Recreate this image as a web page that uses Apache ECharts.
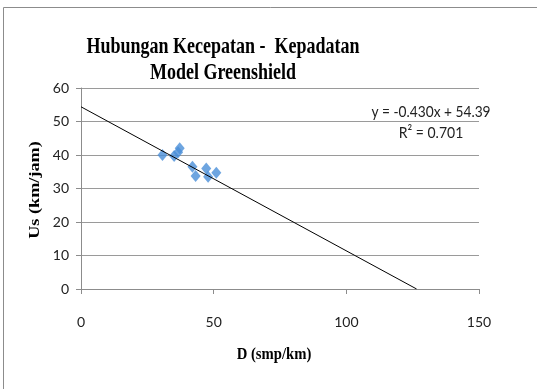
<!DOCTYPE html>
<html>
<head>
<meta charset="utf-8">
<script src="https://cdn.jsdelivr.net/npm/echarts@6/dist/echarts.min.js"></script>
<style>
  html, body { margin: 0; padding: 0; background: #fff; }
  #chart { width: 537px; height: 389px; }
</style>
</head>
<body>
<div id="chart"></div>
<script>
// Observed density (smp/km) and space-mean speed (km/jam)
const density = [30.7, 35.1, 36.6, 37.2, 42.0, 43.2, 47.2, 47.9, 51.0];
const speed   = [40.0, 39.7, 40.8, 42.0, 36.5, 33.7, 36.0, 33.5, 34.7];

// Linear fit (Greenshield): Us = slope * D + intercept
const slope = -0.430;
const intercept = 54.39;
const rSquared = 0.701;

const xTicks = [0, 50, 100, 150];
const yTicks = [0, 10, 20, 30, 40, 50, 60];

const points = density.map((d, i) => [d, speed[i]]);
// Trendline from the y-intercept down to the jam density (Us = 0)
const trend = [[0, intercept], [-intercept / slope, 0]];

const labelFont = 'Lato, "Open Sans", sans-serif';
const serif = '"Liberation Serif", "DejaVu Serif", serif';

const chart = echarts.init(document.getElementById('chart'));
chart.setOption({
  animation: false,
  backgroundColor: '#fff',
  grid: { left: 81, right: 58, top: 88, bottom: 100 },
  xAxis: {
    type: 'value',
    min: xTicks[0], max: xTicks[xTicks.length - 1], interval: 50,
    axisLine: { show: true, lineStyle: { color: '#8c8c8c', width: 1 } },
    axisTick: { show: true, length: 5, lineStyle: { color: '#8c8c8c' } },
    axisLabel: { margin: 26, fontSize: 14, color: '#222', fontFamily: labelFont },
    splitLine: { show: false }
  },
  yAxis: {
    type: 'value',
    min: yTicks[0], max: yTicks[yTicks.length - 1], interval: 10,
    axisLine: { show: true, lineStyle: { color: '#8c8c8c', width: 1 } },
    axisTick: { show: true, length: 5, lineStyle: { color: '#8c8c8c' } },
    axisLabel: { margin: 12, fontSize: 14, color: '#222', fontFamily: labelFont },
    splitLine: { show: true, lineStyle: { color: '#9a9a9a', width: 1 } }
  },
  series: [
    {
      type: 'line',
      data: trend,
      symbol: 'none',
      lineStyle: { color: '#000', width: 1 },
      z: 3
    },
    {
      type: 'scatter',
      data: points,
      symbol: 'diamond',
      symbolSize: [10, 12],
      itemStyle: { color: '#4A8FD8' },
      z: 2
    }
  ],
  graphic: [
    { type: 'rect', shape: { x: 3.5, y: 7.5, width: 600, height: 500 },
      style: { fill: 'none', stroke: '#8c8c8c', lineWidth: 1 }, z: -10 },
    { type: 'text', x: 223, y: 47, scaleY: 1.25,
      style: { text: 'Hubungan Kecepatan -  Kepadatan', font: 'bold 18px ' + serif,
               fill: '#000', textAlign: 'center', textVerticalAlign: 'middle' } },
    { type: 'text', x: 223, y: 73, scaleY: 1.25,
      style: { text: 'Model Greenshield', font: 'bold 18px ' + serif,
               fill: '#000', textAlign: 'center', textVerticalAlign: 'middle' } },
    { type: 'text', x: 274, y: 355, scaleX: 1.05, scaleY: 1.2,
      style: { text: 'D (smp/km)', font: 'bold 14px ' + serif,
               fill: '#000', textAlign: 'center', textVerticalAlign: 'middle' } },
    { type: 'text', x: 35, y: 190, rotation: Math.PI / 2, scaleX: 1.3,
      style: { text: 'Us (km/jam)', font: 'bold 14px ' + serif,
               fill: '#000', textAlign: 'center', textVerticalAlign: 'middle' } },
    { type: 'text', x: 431, y: 112, scaleX: 0.98, scaleY: 1.15,
      style: { text: 'y = ' + slope.toFixed(3) + 'x + ' + intercept.toFixed(2),
               font: '14px ' + labelFont, fill: '#222',
               textAlign: 'center', textVerticalAlign: 'middle' } },
    { type: 'text', x: 431, y: 133, scaleY: 1.15,
      style: { text: 'R\u00B2 = ' + rSquared.toFixed(3),
               font: '14px ' + labelFont, fill: '#222',
               textAlign: 'center', textVerticalAlign: 'middle' } }
  ]
});
</script>
</body>
</html>
